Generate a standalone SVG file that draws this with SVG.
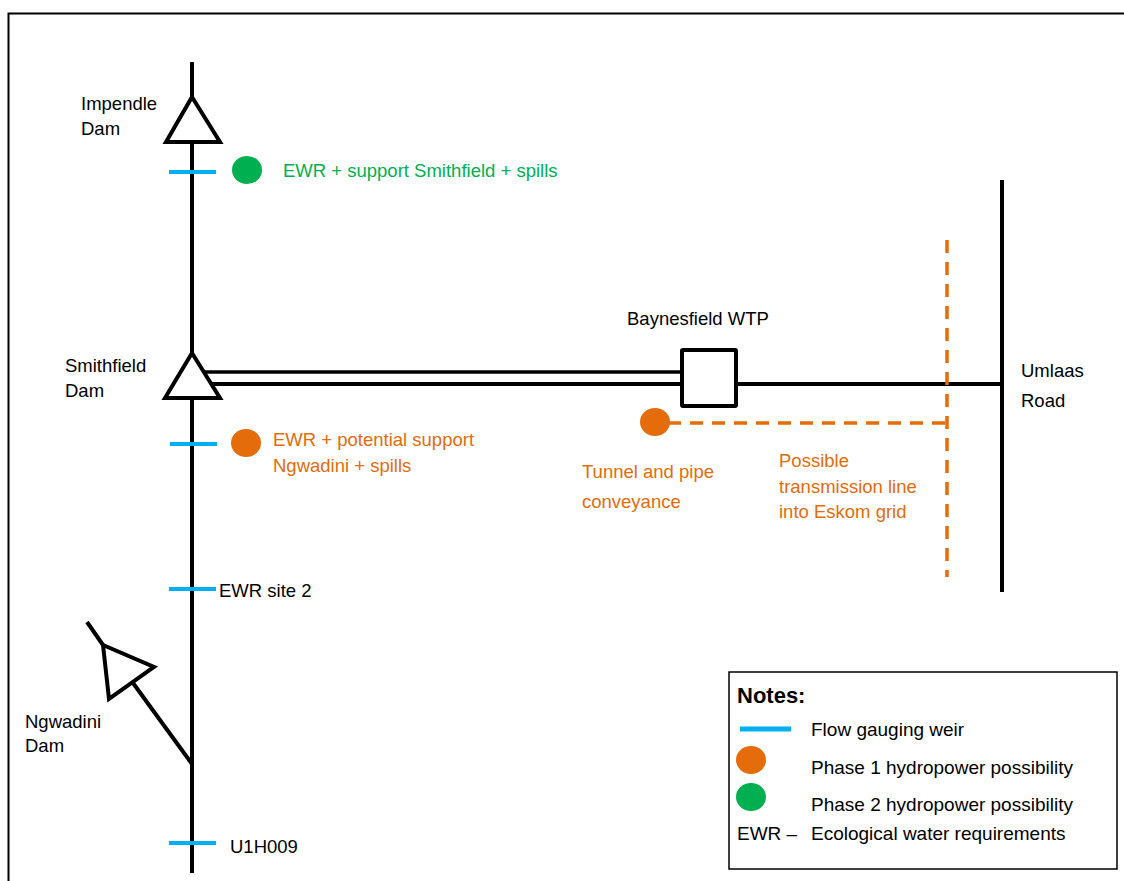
<svg xmlns="http://www.w3.org/2000/svg" width="1124" height="881" viewBox="0 0 1124 881">
<style>
text{font-family:"Liberation Sans",Arial,sans-serif;font-size:18.5px;fill:#000}
.lg{font-size:19px}
.g{fill:#00B050}.o{fill:#E46C0A}
.ln{stroke:#000;stroke-width:4;fill:none}
.weir{stroke:#00B0F0;stroke-width:4;fill:none}
.dash{stroke:#E46C0A;stroke-width:3.5;fill:none;stroke-dasharray:13,9}
.tri{stroke:#000;stroke-width:4;fill:#fff;stroke-linejoin:miter}
</style>
<rect width="1124" height="881" fill="#fff"/>
<rect x="8.5" y="13.5" width="1130" height="880" fill="none" stroke="#000" stroke-width="2"/>
<g id="connectors">
<line class="ln" x1="192" y1="62" x2="192" y2="873"/>
<line class="ln" x1="1002" y1="180" x2="1002" y2="592"/>
<line x1="205" y1="372" x2="682" y2="372" stroke="#000" stroke-width="3.5"/>
<line x1="212" y1="384" x2="682" y2="384" stroke="#000" stroke-width="4"/>
<line class="ln" x1="736" y1="384" x2="1002" y2="384"/>
<line class="dash" x1="947" y1="240" x2="947" y2="577"/>
<line class="dash" x1="668" y1="423" x2="947" y2="423"/>
<line class="ln" x1="87" y1="622" x2="103" y2="645"/>
<line class="ln" x1="133" y1="683" x2="192" y2="764"/>
</g>
<g id="impendle">
<polygon class="tri" points="192,97 220,142 166,142"/>
<text x="81" y="110">Impendle</text>
<text x="81" y="135">Dam</text>
</g>
<g id="weir1">
<line class="weir" x1="169" y1="172" x2="216" y2="172"/>
<ellipse class="g" cx="247" cy="170" rx="15" ry="14"/>
<text class="g" x="283" y="177">EWR + support Smithfield + spills</text>
</g>
<g id="smithfield">
<polygon class="tri" points="192,353 220,398 165,398"/>
<text x="65" y="372">Smithfield</text>
<text x="65" y="397">Dam</text>
</g>
<g id="weir2">
<line class="weir" x1="170" y1="444" x2="217" y2="444"/>
<ellipse class="o" cx="246" cy="443" rx="15" ry="14"/>
<text class="o" x="273" y="446">EWR + potential support</text>
<text class="o" x="273" y="472">Ngwadini + spills</text>
</g>
<g id="baynesfield">
<rect x="682" y="350" width="54" height="56" rx="1" fill="#fff" stroke="#000" stroke-width="4"/>
<text x="627" y="325">Baynesfield WTP</text>
</g>
<g id="umlaas">
<text x="1021" y="377">Umlaas</text>
<text x="1021" y="407">Road</text>
</g>
<g id="tunnel">
<ellipse class="o" cx="655" cy="422" rx="15" ry="14"/>
<text class="o" x="582" y="478">Tunnel and pipe</text>
<text class="o" x="582" y="508">conveyance</text>
</g>
<g id="transmission">
<text class="o" x="779" y="467">Possible</text>
<text class="o" x="779" y="493">transmission line</text>
<text class="o" x="779" y="518">into Eskom grid</text>
</g>
<g id="ewrsite2">
<line class="weir" x1="169" y1="589" x2="216" y2="589"/>
<text x="219" y="597">EWR site 2</text>
</g>
<g id="ngwadini">
<polygon class="tri" points="103,645 154,667 109,699"/>
<text x="25" y="728">Ngwadini</text>
<text x="25" y="752">Dam</text>
</g>
<g id="u1h009">
<line class="weir" x1="169" y1="843" x2="216" y2="843"/>
<text x="230" y="853">U1H009</text>
</g>
<g id="legend">
<rect x="729" y="672" width="388" height="197" fill="#fff" stroke="#000" stroke-width="1.5"/>
<text x="737" y="703" style="font-size:22px;font-weight:bold">Notes:</text>
<line x1="740" y1="729" x2="791" y2="729" stroke="#00B0F0" stroke-width="5"/>
<text class="lg" x="811" y="736">Flow gauging weir</text>
<ellipse class="o" cx="751" cy="760" rx="15" ry="14"/>
<text class="lg" x="811" y="774">Phase 1 hydropower possibility</text>
<ellipse class="g" cx="751" cy="797" rx="15" ry="14"/>
<text class="lg" x="811" y="811">Phase 2 hydropower possibility</text>
<text class="lg" x="737" y="840">EWR –</text>
<text class="lg" x="811" y="840">Ecological water requirements</text>
</g>
</svg>
